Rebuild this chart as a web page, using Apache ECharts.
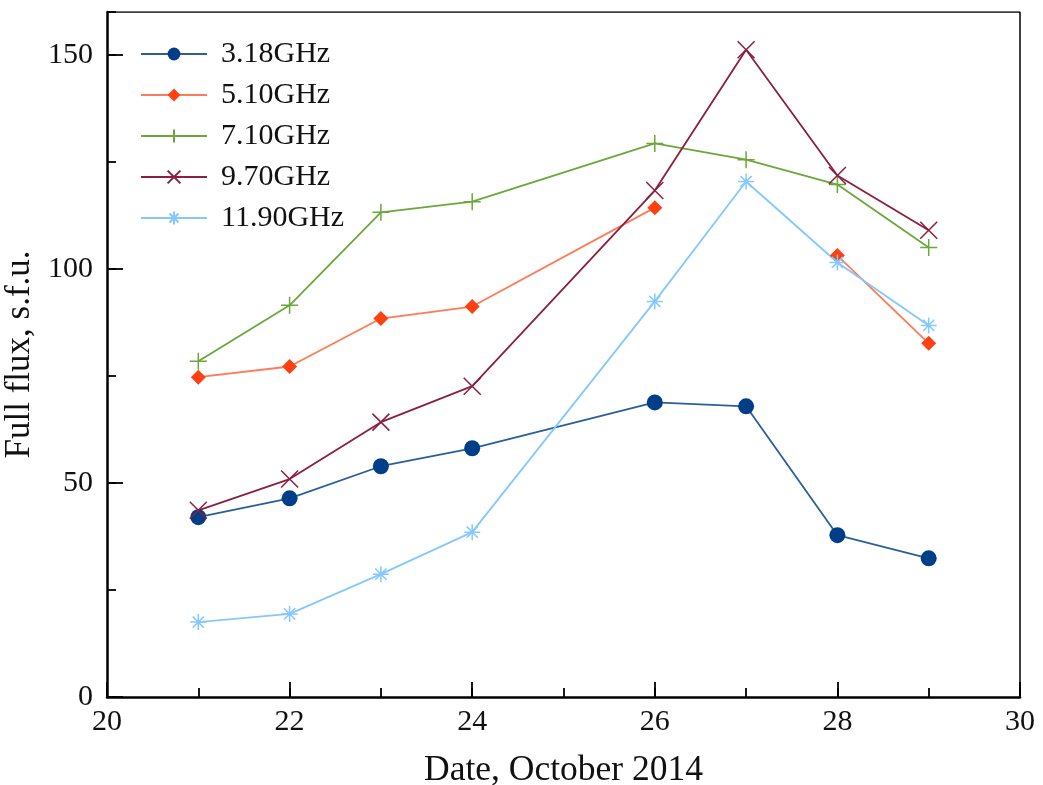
<!DOCTYPE html>
<html><head><meta charset="utf-8">
<script src="https://cdn.jsdelivr.net/npm/echarts@6/dist/echarts.min.js"></script>
<style>html,body{margin:0;padding:0;background:#fff}#c{width:1043px;height:785px}</style>
</head><body><div id="c"></div>
<script>
const days = [21, 22, 23, 24, 26, 27, 28, 29];
const seriesNames = ['3.18GHz', '5.10GHz', '7.10GHz', '9.70GHz', '11.90GHz'];
const f318 = [42.0, 46.4, 53.9, 58.1, 68.8, 67.9, 37.8, 32.4];
const f510 = [74.7, 77.2, 88.4, 91.2, 114.3, null, 103.1, 82.6];
const f710 = [78.4, 91.5, 113.2, 115.7, 129.3, 125.5, 119.7, 105.0];
const f970 = [43.6, 50.9, 64.2, 72.6, 118.3, 151.2, 121.8, 109.0];
const f1190 = [17.5, 19.4, 28.7, 38.5, 92.4, 120.4, 101.5, 86.8];
const xRange = [20, 30];
const yRange = [0, 160];

const FONT = '"Liberation Serif", "Times New Roman", serif';
const PLUS = 'path://M0,5L10,5M5,0L5,10';
const CROSS = 'path://M0,0L10,10M0,10L10,0';
const STAR = 'path://M0,5L10,5M5,0L5,10M1.5,1.5L8.5,8.5M1.5,8.5L8.5,1.5';

const styles = [
  {line: '#2a5f9a', mark: '#003f87', symbol: 'circle', size: 16, bw: 0},
  {line: '#ff7a55', mark: '#ff4010', symbol: 'diamond', size: 15, bw: 0},
  {line: '#6aa83a', mark: '#6aa83a', symbol: PLUS, size: 17, bw: 1.5},
  {line: '#8a1f40', mark: '#8a1f40', symbol: CROSS, size: 17, bw: 1.5},
  {line: '#84c8ff', mark: '#84c8ff', symbol: STAR, size: 16, bw: 1.5}
];
const allData = [f318, f510, f710, f970, f1190];

const series = allData.map((arr, i) => ({
  name: seriesNames[i],
  type: 'line',
  data: days.map((d, j) => [d, arr[j]]),
  connectNulls: false,
  symbol: styles[i].symbol,
  symbolSize: styles[i].size,
  lineStyle: {color: styles[i].line, width: 1.8},
  itemStyle: {color: styles[i].mark, borderColor: styles[i].mark, borderWidth: styles[i].bw},
  emphasis: {disabled: true},
  animation: false,
  z: 3
}));

// frame (top/right thin borders)
series.push({
  type: 'line', data: [[xRange[0], yRange[1]], [xRange[1], yRange[1]], [xRange[1], yRange[0]]], symbol: 'none',
  lineStyle: {color: '#000', width: 1.5}, silent: true, animation: false, z: 1
});

const tickLine = {color: '#000', width: 1.8};
const chart = echarts.init(document.getElementById('c'), null, {renderer: 'canvas'});
chart.setOption({
  backgroundColor: '#fff',
  animation: false,
  grid: {left: 107, right: 23, top: 12, bottom: 88, containLabel: false, outerBoundsMode: 'none'},
  legend: {
    data: seriesNames,
    orient: 'vertical',
    left: 135, top: 34,
    itemWidth: 66, itemHeight: 16, itemGap: 11,
    textStyle: {fontFamily: FONT, fontSize: 30, color: '#111', padding: [0, 0, 0, 9]}
  },
  xAxis: [{
    type: 'value', min: xRange[0], max: xRange[1], interval: 2,
    name: 'Date, October 2014', nameLocation: 'middle', nameGap: 56,
    nameTextStyle: {fontFamily: FONT, fontSize: 35.5, color: '#111'},
    axisLine: {lineStyle: {color: '#000', width: 2.5}},
    axisTick: {inside: true, length: 15, lineStyle: tickLine},
    axisLabel: {fontFamily: FONT, fontSize: 30, color: '#111', margin: 10},
    splitLine: {show: false}
  }, {
    type: 'value', min: xRange[0], max: xRange[1], interval: 1, position: 'bottom',
    axisLine: {show: false},
    axisTick: {inside: true, length: 9, lineStyle: tickLine},
    axisLabel: {show: false},
    splitLine: {show: false}
  }],
  yAxis: [{
    type: 'value', min: yRange[0], max: yRange[1], interval: 50,
    name: 'Full flux, s.f.u.', nameLocation: 'middle', nameGap: 64,
    nameTextStyle: {fontFamily: FONT, fontSize: 35, color: '#111'},
    axisLine: {lineStyle: {color: '#000', width: 2.5}},
    axisTick: {inside: true, length: 16, lineStyle: tickLine},
    axisLabel: {fontFamily: FONT, fontSize: 30, color: '#111', margin: 14, showMaxLabel: false},
    splitLine: {show: false}
  }, {
    type: 'value', min: yRange[0], max: yRange[1], interval: 25, position: 'left',
    axisLine: {show: false},
    axisTick: {inside: true, length: 9, lineStyle: tickLine},
    axisLabel: {show: false},
    splitLine: {show: false}
  }],
  series: series
});
</script></body></html>
